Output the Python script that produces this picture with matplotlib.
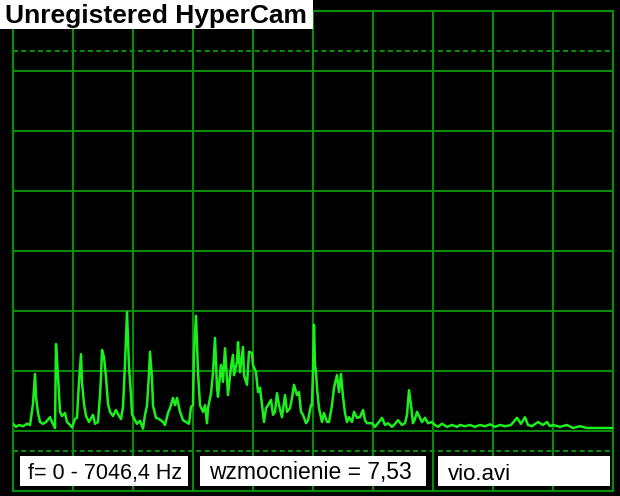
import matplotlib
matplotlib.use('Agg')
import matplotlib.pyplot as plt
from matplotlib.patches import Rectangle

# Zakres czestotliwosci i podpisy
f_max = 7046.4
title_text = 'Unregistered HyperCam'
freq_label = 'f= 0 - 7046,4 Hz'
gain_label = 'wzmocnienie = 7,53'
file_label = 'vio.avi'

# Widmo: numer prazka (600 prazkow na f_max) i amplituda w dzialkach siatki
spectrum_bin = [0, 3, 6, 10, 14, 17, 20, 22, 23, 25, 27, 30, 33, 37, 39, 42, 43, 45, 47,
                49, 52, 54, 57, 59, 62, 64, 66, 68, 69, 71, 73, 76, 80, 82, 85, 87, 88, 89,
                91, 93, 95, 97, 100, 103, 105, 108, 110, 112, 114, 116, 118, 119, 122, 124,
                127, 130, 132, 134, 136, 137, 139, 140, 143, 146, 150, 152, 155, 157, 160,
                162, 164, 167, 170, 173, 176, 178, 180, 181, 183, 185, 187, 190, 192, 194,
                195, 198, 200, 202, 204, 205, 208, 210, 212, 214, 215, 218, 220, 221, 224,
                225, 227, 230, 231, 234, 236, 239, 240, 243, 245, 247, 249, 251, 253, 255,
                258, 260, 262, 264, 266, 269, 272, 274, 277, 279, 281, 284, 286, 288, 290,
                293, 295, 298, 299, 300, 301, 302, 303, 304, 306, 309, 311, 314, 316, 319,
                321, 324, 326, 328, 330, 332, 334, 336, 339, 341, 344, 347, 350, 352, 354,
                359, 362, 365, 369, 372, 375, 379, 382, 385, 389, 392, 394, 396, 398, 400,
                402, 404, 406, 409, 412, 415, 419, 422, 425, 429, 434, 439, 444, 447, 452,
                457, 462, 467, 472, 477, 482, 487, 492, 498, 504, 508, 512, 515, 519, 525,
                530, 534, 537, 540, 547, 554, 560, 567, 574, 580, 587, 594, 600]
spectrum_amp = [0.12, 0.07, 0.10, 0.08, 0.12, 0.10, 0.45, 0.95, 0.57, 0.30, 0.15, 0.12,
                0.15, 0.23, 0.15, 0.05, 1.45, 0.92, 0.32, 0.25, 0.30, 0.15, 0.10, 0.06,
                0.20, 0.22, 0.82, 1.28, 0.80, 0.45, 0.25, 0.15, 0.27, 0.12, 0.15, 0.60,
                0.90, 1.35, 1.23, 0.90, 0.45, 0.32, 0.25, 0.35, 0.28, 0.20, 0.40, 1.12,
                1.98, 1.07, 0.60, 0.28, 0.18, 0.12, 0.17, 0.04, 0.27, 0.42, 0.95, 1.32,
                0.87, 0.42, 0.22, 0.20, 0.15, 0.10, 0.30, 0.38, 0.55, 0.43, 0.55, 0.32,
                0.18, 0.15, 0.12, 0.40, 0.43, 1.32, 1.92, 0.98, 0.43, 0.32, 0.43, 0.13,
                0.38, 0.63, 0.97, 1.55, 0.72, 0.57, 1.10, 0.82, 1.38, 0.85, 0.60, 1.07,
                1.27, 0.93, 1.15, 1.48, 0.98, 1.40, 0.93, 0.77, 1.32, 1.30, 1.10, 0.98,
                0.65, 0.72, 0.43, 0.15, 0.38, 0.43, 0.52, 0.27, 0.32, 0.63, 0.43, 0.23,
                0.60, 0.32, 0.38, 0.55, 0.77, 0.60, 0.65, 0.32, 0.27, 0.13, 0.18, 0.43,
                0.43, 1.00, 1.77, 1.10, 0.98, 0.72, 0.38, 0.15, 0.30, 0.15, 0.15, 0.43,
                0.72, 0.93, 0.65, 0.95, 0.57, 0.30, 0.15, 0.23, 0.15, 0.32, 0.22, 0.23,
                0.35, 0.18, 0.13, 0.13, 0.07, 0.13, 0.22, 0.10, 0.13, 0.07, 0.12, 0.18,
                0.10, 0.13, 0.27, 0.68, 0.43, 0.13, 0.20, 0.32, 0.25, 0.15, 0.22, 0.13,
                0.15, 0.10, 0.07, 0.12, 0.07, 0.10, 0.07, 0.10, 0.08, 0.10, 0.07, 0.10,
                0.08, 0.11, 0.07, 0.10, 0.08, 0.10, 0.22, 0.12, 0.23, 0.10, 0.08, 0.15,
                0.10, 0.15, 0.08, 0.10, 0.07, 0.10, 0.05, 0.08, 0.05, 0.05, 0.05, 0.05,
                0.05]

freqs = [b * f_max / 600 for b in spectrum_bin]

W, H = 620, 496
grid_col = '#0a8c0a'
line_col = '#1cf01c'

fig = plt.figure(figsize=(W / 100, H / 100), dpi=100, facecolor='black')
ax = fig.add_axes([13 / W, 5 / H, 600 / W, 480 / H])
ax.set_facecolor('black')
ax.set_xlim(0, f_max)
ax.set_ylim(-1, 7)
ax.set_xticks([f_max * i / 10 for i in range(11)])
ax.set_yticks(range(-1, 8))
ax.tick_params(length=0, labelbottom=False, labelleft=False)
ax.grid(True, color=grid_col, linewidth=1.5)
ax.set_axisbelow(True)
for s in ax.spines.values():
    s.set_color(grid_col)
    s.set_linewidth(1.5)

# linie przerywane
for yd in (6 + 1 / 3, -1 / 3):
    ax.axhline(yd, color=grid_col, linewidth=1.5, linestyle=(0, (2.4, 1.6)))

ax.plot(freqs, spectrum_amp, color=line_col, linewidth=1.8, zorder=3)


def box(x0, y0, x1, y1):
    fig.patches.append(Rectangle((x0 / W, 1 - y1 / H), (x1 - x0) / W, (y1 - y0) / H,
                                 transform=fig.transFigure, facecolor='white',
                                 edgecolor='none', zorder=5))


box(0, 0, 313, 29)
box(20, 456, 188, 486)
box(200, 456, 426, 486)
box(438, 456, 610, 486)

fig.text(5 / W, 1 - 23.5 / H, title_text, fontsize=19, fontweight='bold',
         family='Liberation Sans', color='black', va='baseline', zorder=6)
fig.text(28 / W, 1 - 479.5 / H, freq_label, fontsize=15.5, family='Liberation Sans',
         color='black', va='baseline', zorder=6)
fig.text(209 / W, 1 - 479.5 / H, gain_label, fontsize=16.5, family='Liberation Sans',
         color='black', va='baseline', zorder=6)
fig.text(448 / W, 1 - 479.5 / H, file_label, fontsize=16, family='Liberation Sans',
         color='black', va='baseline', zorder=6)

fig.savefig('out.png', dpi=100, facecolor='black')
